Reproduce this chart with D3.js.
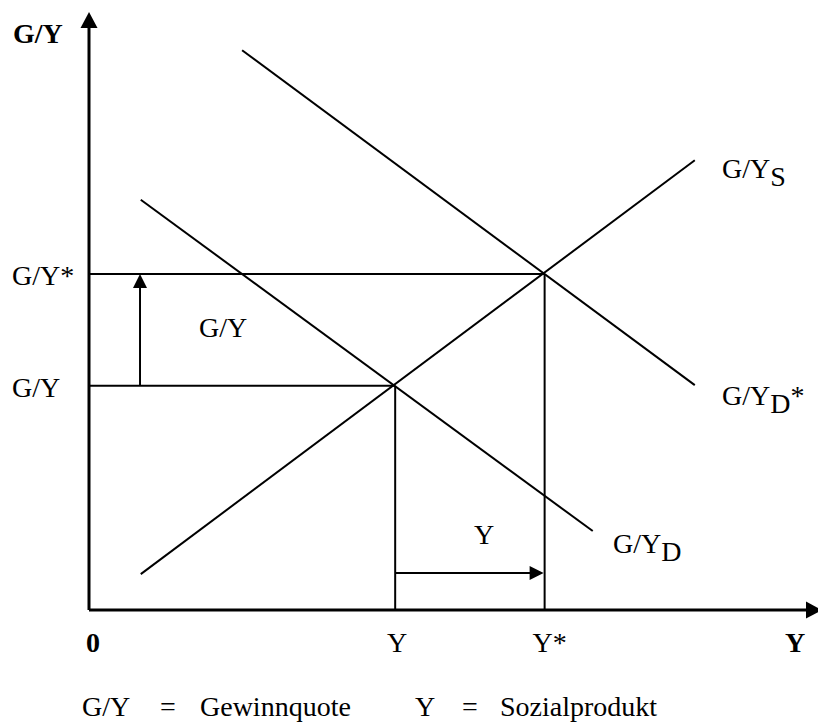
<!DOCTYPE html>
<html>
<head>
<meta charset="utf-8">
<script src="https://cdn.jsdelivr.net/npm/d3@7"></script>
<style>
  body { margin: 0; background: #fff; }
</style>
</head>
<body>
<svg id="chart" width="818" height="724"></svg>
<script>
// abstract units, origin at 0/0
const xMax = 10;
const yMax = 10;

// equilibrium values
const yOld = 4.2;      // Y
const yNew = 6.25;     // Y*
const gyOld = 3.75;    // G/Y
const gyNew = 5.62;    // G/Y*
const shiftX = 0.7;    // x of the vertical shift arrow
const shiftY = 0.62;   // y of the horizontal shift arrow

// curves: [start, end]
const supplyLine = [{x: 0.71, y: 0.6}, {x: 8.31, y: 7.52}];
const demandLine = [{x: 0.71, y: 6.86}, {x: 6.91, y: 1.32}];
const demandStarLine = [{x: 2.1, y: 9.36}, {x: 8.31, y: 3.76}];

// legend entries
const legendItems = [
    {sym: "G/Y", text: "Gewinnquote"},
    {sym: "Y", text: "Sozialprodukt"}
];

const FONT = "'Liberation Serif', 'Times New Roman', 'DejaVu Serif', serif";
const svg = d3.select("#chart");

var x = d3.scaleLinear().domain([0, xMax]).range([89, 818]);
var y = d3.scaleLinear().domain([0, yMax]).range([610, 12]);

function seg(x1, y1, x2, y2, w) {
    svg.append("line")
        .attr("x1", x(x1)).attr("y1", y(y1))
        .attr("x2", x(x2)).attr("y2", y(y2))
        .attr("stroke", "#000")
        .attr("stroke-width", w || 2);
}

// arrow head, tip at (px, py) pointing in dir
function head(px, py, dir, len, half) {
    var pts;
    if (dir === "up") pts = [[px, py], [px - half, py + len], [px + half, py + len]];
    else pts = [[px, py], [px - len, py - half], [px - len, py + half]];
    svg.append("path")
        .attr("d", d3.line()(pts) + "Z")
        .attr("fill", "#000");
}

// axes
seg(0, 0, 0, yMax - 0.25, 3);
seg(0, 0, xMax - 0.15, 0, 3);
head(x(0), y(yMax), "up", 16, 8.5);
head(x(xMax) + 4, y(0), "right", 16, 8.5);

// guide lines
seg(0, gyNew, yNew, gyNew);
seg(0, gyOld, yOld, gyOld);
seg(yOld, 0, yOld, gyOld);
seg(yNew, 0, yNew, gyNew);

// curves
var lineMaker = d3.line().x(d => x(d.x)).y(d => y(d.y));
[supplyLine, demandLine, demandStarLine].forEach(function(l) {
    svg.append("path")
        .attr("d", lineMaker(l))
        .attr("fill", "none")
        .attr("stroke", "#000")
        .attr("stroke-width", 2);
});

// shift arrows
seg(shiftX, gyOld, shiftX, gyNew - 0.2);
head(x(shiftX), y(gyNew), "up", 14, 7);
seg(yOld, shiftY, yNew - 0.15, shiftY);
head(x(yNew) - 1, y(shiftY), "right", 14, 7);

// labels
function label(tx, ty, str, opts) {
    opts = opts || {};
    var t = svg.append("text")
        .attr("x", tx).attr("y", ty)
        .attr("font-family", FONT)
        .attr("font-size", opts.size || 28)
        .attr("font-weight", opts.bold ? "bold" : "normal")
        .attr("fill", "#000")
        .attr("text-anchor", opts.anchor || "start");
    t.append("tspan").text(str);
    if (opts.sub) {
        t.append("tspan").attr("dy", 8).text(opts.sub);
        if (opts.after) t.append("tspan").attr("dy", -8).text(opts.after);
    }
    return t;
}

label(13, 43, "G/Y", {bold: true});
label(12, 285, "G/Y*");
label(12, 397, "G/Y");
label(x(shiftX) + 59, 337, "G/Y");
label(484, 544, "Y", {anchor: "middle"});
label(722, 178, "G/Y", {sub: "S"});
label(722, 405, "G/Y", {sub: "D", after: "*"});
label(613, 553, "G/Y", {sub: "D"});

label(x(0) + 4, 652, "0", {bold: true, anchor: "middle"});
label(x(yOld) + 2, 652, "Y", {anchor: "middle"});
label(x(yNew) + 5, 652, "Y*", {anchor: "middle"});
label(795, 652, "Y", {bold: true, anchor: "middle"});

// legend
var legendX = [[82, 160, 200], [415, 462, 500]];
legendItems.forEach(function(d, i) {
    label(legendX[i][0], 716, d.sym);
    label(legendX[i][1], 716, "=");
    label(legendX[i][2], 716, d.text);
});
</script>
</body>
</html>
